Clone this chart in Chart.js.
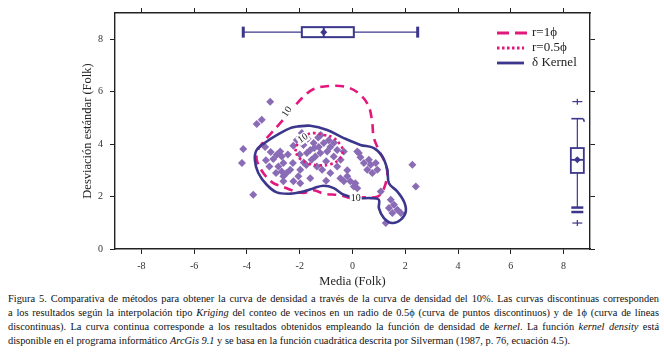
<!DOCTYPE html>
<html>
<head>
<meta charset="utf-8">
<script src="https://cdn.jsdelivr.net/npm/chart.js@4.4.1/dist/chart.umd.min.js"></script>
<style>
body { margin: 0; background: #fff; }
#wrap { position: relative; width: 664px; height: 355px; }
#cap { position: absolute; left: 8px; top: 292px; width: 651px; font-family: "Liberation Serif", "Times New Roman", Times, "DejaVu Serif", serif; font-size: 10.4px; line-height: 14px; color: #111; }
#cap div { text-align: justify; text-align-last: justify; }
#cap div.last { text-align-last: left; }
</style>
</head>
<body>
<div id="wrap">
  <canvas id="chart" width="664" height="290"></canvas>
  <div id="cap">
    <div>Figura 5. Comparativa de métodos para obtener la curva de densidad a través de la curva de densidad del 10%. Las curvas discontinuas corresponden</div>
    <div>a los resultados según la interpolación tipo <i>Kriging</i> del conteo de vecinos en un radio de 0.5ϕ (curva de puntos discontinuos) y de 1ϕ (curva de líneas</div>
    <div>discontinuas). La curva continua corresponde a los resultados obtenidos empleando la función de densidad de <i>kernel</i>. La función <i>kernel density</i> está</div>
    <div class="last">disponible en el programa informático <i>ArcGis 9.1</i> y se basa en la función cuadrática descrita por Silverman (1987, p. 76, ecuación 4.5).</div>
  </div>
</div>
<script>
// ejes
const xTicks = [-8, -6, -4, -2, 0, 2, 4, 6, 8];
const yTicks = [0, 2, 4, 6, 8];

// muestras: media y desviación (Folk)
const meanFolk = [-4.14, -4.19, -3.76, -3.63, -3.44, -3.12, -3.31, -3.28, -3.15, -3.00,
  -2.87, -2.74, -2.68, -2.62, -2.81, -2.68, -2.62, -2.62, -2.36, -2.24,
  -2.26, -1.98, -1.98, -2.05, -2.24, -2.11, -1.92, -1.86, -1.73, -1.60,
  -1.47, -1.41, -1.28, -1.22, -1.09, -0.96, -0.84, -0.71, -0.58, -0.33,
  -1.15, -0.84, -1.60, -0.58, -0.46, -0.33, -0.20, -0.08, 0.11, 0.18,
  0.05, 0.18, 0.24, 0.43, 0.62, 0.69, 0.56, 0.75, 0.94, 0.88,
  1.07, 2.27, 2.40, 1.45, 1.57, 1.70, 1.51, 1.83, 1.26, 1.38,
  -1.70, -1.30, -0.90, -1.55, -1.00, -0.70, -2.00, -1.85, -0.45, -1.20,
  -2.45, -2.50, -2.90, -3.10, -1.35, 0.30, -1.00, -0.20, -1.75, -1.45];
const sdFolk = [3.81, 3.28, 2.07, 4.77, 4.93, 5.62, 3.89, 3.38, 3.15, 3.43,
  3.59, 3.72, 3.53, 3.28, 3.15, 2.96, 2.77, 2.58, 3.02, 2.58,
  3.28, 3.02, 2.51, 2.77, 3.94, 4.16, 4.42, 3.97, 3.66, 3.78,
  4.04, 3.53, 3.89, 3.66, 4.04, 3.72, 3.89, 3.53, 3.78, 3.72,
  3.02, 2.90, 2.70, 3.15, 2.70, 2.58, 2.77, 2.58, 2.51, 2.32,
  2.38, 3.72, 3.66, 3.28, 3.40, 3.21, 3.02, 2.90, 3.02, 3.28,
  2.19, 3.21, 2.38, 1.88, 1.69, 1.50, 1.37, 1.37, 0.99, 1.56,
  4.20, 4.25, 4.15, 3.40, 3.35, 4.05, 3.60, 3.30, 3.40, 4.35,
  3.60, 2.90, 2.90, 3.70, 3.15, 3.50, 2.60, 3.00, 3.20, 3.85];

// curva kernel (10%)
const kernelX = [-2.11, -1.60, -0.96, -0.33, 0.30, 0.81, 1.13, 1.32, 1.38, 1.70, 1.95, 2.02, 1.83, 1.51, 1.19, 1.00, 1.00,
  0.69, 0.18, -0.33, -0.71, -1.09, -1.47, -1.86, -2.36, -2.87, -3.25, -3.57, -3.70, -3.63, -3.25, -2.74, -2.36, -2.11];
const kernelY = [4.67, 4.70, 4.54, 4.23, 3.97, 3.85, 3.53, 3.02, 2.51, 2.19, 1.81, 1.43, 1.12, 0.99, 1.18, 1.56, 1.88,
  1.94, 1.94, 2.07, 2.32, 2.41, 2.32, 2.19, 2.11, 2.16, 2.45, 2.90, 3.40, 3.78, 4.10, 4.42, 4.61, 4.67];

// kriging r=1ϕ
const r1X = [-3.25, -2.74, -2.36, -1.92, -1.47, -0.84, -0.20, 0.30, 0.62, 0.75, 0.80, 0.99, 1.22, 1.32, 1.26, 1.13, 0.94,
  0.43, -0.08, -0.46, -1.09, -1.47, -1.86, -2.30, -2.62, -3.00, -3.38, -3.63, -3.58, -3.43, -3.25];
const r1Y = [4.23, 4.80, 5.24, 5.75, 6.10, 6.22, 6.17, 5.88, 5.43, 4.80, 4.28, 3.78, 3.33, 2.94, 2.51, 2.19, 1.99,
  1.97, 1.94, 2.05, 2.11, 2.24, 2.14, 2.24, 2.37, 2.51, 2.90, 3.40, 3.78, 4.01, 4.23];

// kriging r=0.5ϕ
const r05X = [-2.17, -2.06, -1.79, -1.47, -1.09, -0.72, -0.46, -0.36, -0.53, -0.84, -1.22, -1.68, -2.02, -2.17];
const r05Y = [3.72, 4.05, 4.32, 4.42, 4.35, 4.24, 3.97, 3.71, 3.40, 3.23, 3.19, 3.27, 3.47, 3.72];

// diagramas de caja: [min, q1, mediana, q3, max]
const topBox = [-4.14, -1.92, -1.09, 0.05, 2.47];
const topBoxMean = -1.09;
const topBoxY = 8.27;
const rightBox = [1.58, 2.90, 3.40, 3.85, 4.97];
const rightBoxMean = 3.40;
const rightBoxX = 8.52;
const rightExtraCap = 1.41;
const rightOutliers = [5.62, 0.99];

// etiquetas de contorno
const labelText = ['10', '10', '10'];
const labelX = [-2.48, -1.88, 0.12];
const labelY = [5.23, 4.22, 1.93];
const labelRot = [-55, -35, 0];

const pink = '#e2187e';
const navy = '#3c378c';
const violet = '#8a6cb6';
const serif = '"Liberation Serif", "Times New Roman", Times, "DejaVu Serif", serif';

function toPts(xs, ys) {
  return xs.map((v, i) => ({ x: v, y: ys[i] }));
}

const extras = {
  id: 'extras',
  afterDatasetsDraw(chart) {
    const { ctx, scales: { x, y } } = chart;
    const px = v => x.getPixelForValue(v);
    const py = v => y.getPixelForValue(v);
    const line = (x1, y1, x2, y2) => { ctx.beginPath(); ctx.moveTo(x1, y1); ctx.lineTo(x2, y2); ctx.stroke(); };
    const diamond = (cx, cy, r) => {
      ctx.beginPath(); ctx.moveTo(cx, cy - r); ctx.lineTo(cx + r, cy); ctx.lineTo(cx, cy + r); ctx.lineTo(cx - r, cy); ctx.closePath(); ctx.fill();
    };
    ctx.save();

    // etiquetas "10"
    ctx.font = '10px ' + serif;
    ctx.textAlign = 'center';
    ctx.textBaseline = 'middle';
    labelText.forEach((t, i) => {
      ctx.save();
      ctx.translate(px(labelX[i]), py(labelY[i]));
      ctx.rotate(labelRot[i] * Math.PI / 180);
      ctx.fillStyle = '#fff';
      ctx.fillRect(-6, -5, 12, 10);
      ctx.fillStyle = '#222';
      ctx.fillText(t, 0, 0);
      ctx.restore();
    });

    ctx.strokeStyle = navy;
    ctx.fillStyle = navy;

    // caja superior (media)
    const cy = py(topBoxY);
    ctx.lineWidth = 1.2;
    line(px(topBox[0]), cy, px(topBox[1]), cy);
    line(px(topBox[3]), cy, px(topBox[4]), cy);
    ctx.lineWidth = 2;
    ctx.strokeRect(px(topBox[1]), cy - 5, px(topBox[3]) - px(topBox[1]), 10);
    line(px(topBox[2]), cy - 5, px(topBox[2]), cy + 5);
    ctx.fillRect(px(topBox[0]) - 1.5, cy - 5.5, 3, 11);
    ctx.fillRect(px(topBox[4]) - 1.5, cy - 5.5, 3, 11);
    diamond(px(topBoxMean), cy, 3.5);

    // caja derecha (desviación)
    const cx = px(rightBoxX);
    ctx.lineWidth = 1.2;
    line(cx, py(rightBox[3]), cx, py(rightBox[4]));
    line(cx, py(rightBox[1]), cx, py(rightBox[0]));
    ctx.lineWidth = 1.6;
    line(cx - 6, py(rightBox[4]), cx + 6, py(rightBox[4]));
    line(cx + 6, py(rightBox[4]), cx + 7, py(rightBox[4]) + 3);
    ctx.lineWidth = 2.5;
    line(cx - 6, py(rightBox[0]), cx + 6, py(rightBox[0]));
    line(cx - 6, py(rightExtraCap), cx + 6, py(rightExtraCap));
    ctx.lineWidth = 1.8;
    ctx.strokeRect(cx - 6.5, py(rightBox[3]), 13, py(rightBox[1]) - py(rightBox[3]));
    line(cx - 6.5, py(rightBox[2]), cx + 6.5, py(rightBox[2]));
    diamond(cx, py(rightBoxMean), 3.5);
    ctx.lineWidth = 1.2;
    rightOutliers.forEach(v => {
      line(cx - 5, py(v), cx + 5, py(v));
      line(cx, py(v) - 3, cx, py(v) + 3);
    });

    // leyenda
    const lx = 497, lx2 = 524, tx = 532;
    const rows = [33, 48, 63];
    ctx.lineWidth = 2.8;
    ctx.strokeStyle = pink;
    ctx.setLineDash([12, 6]);
    line(lx, rows[0], lx2 + 3, rows[0]);
    ctx.setLineDash([2.5, 2.5]);
    line(lx, rows[1], lx2, rows[1]);
    ctx.setLineDash([]);
    ctx.strokeStyle = navy;
    line(lx, rows[2], lx2, rows[2]);
    ctx.font = '13px ' + serif;
    ctx.textAlign = 'left';
    ctx.fillStyle = '#222';
    ctx.fillText('r=1ϕ', tx, rows[0]);
    ctx.fillText('r=0.5ϕ', tx, rows[1]);
    ctx.fillText('δ Kernel', tx, rows[2]);
    ctx.restore();
  }
};

function axisBase(ticks) {
  return {
    type: 'linear',
    afterBuildTicks: s => { s.ticks = ticks.map(v => ({ value: v })); },
    grid: { drawOnChartArea: false, drawTicks: true, tickLength: 5, color: '#222', lineWidth: 1 },
    border: { display: true, color: '#222', width: 1.4 }
  };
}

new Chart(document.getElementById('chart'), {
  type: 'scatter',
  data: {
    datasets: [
      {
        label: 'δ Kernel',
        data: toPts(kernelX, kernelY),
        showLine: true, borderColor: navy, borderWidth: 2.6, pointRadius: 0, tension: 0.35, fill: false, order: 1
      },
      {
        label: 'r=1ϕ',
        data: toPts(r1X, r1Y),
        showLine: true, borderColor: pink, borderWidth: 2.6, borderDash: [9, 6], pointRadius: 0, tension: 0.35, fill: false, order: 1
      },
      {
        label: 'r=0.5ϕ',
        data: toPts(r05X, r05Y),
        showLine: true, borderColor: pink, borderWidth: 2.6, borderDash: [2.5, 3], pointRadius: 0, tension: 0.4, fill: false, order: 1
      },
      {
        label: 'muestras',
        data: toPts(meanFolk, sdFolk),
        pointStyle: 'rectRot', pointRadius: 4, backgroundColor: violet, borderWidth: 0, order: 2
      }
    ]
  },
  options: {
    responsive: false,
    animation: false,
    devicePixelRatio: 1,
    layout: { padding: 0 },
    plugins: { legend: { display: false }, tooltip: { enabled: false } },
    scales: {
      x: Object.assign(axisBase(xTicks), {
        position: 'bottom', min: -9, max: 9,
        afterFit: s => { s.height = 41; },
        ticks: { padding: 6, color: '#333', font: { family: serif, size: 10 } },
        title: { display: true, text: 'Media (Folk)', color: '#222', font: { family: serif, size: 12.5 }, padding: { top: 0, bottom: 1 } }
      }),
      x2: Object.assign(axisBase(xTicks), {
        position: 'top', min: -9, max: 9,
        afterFit: s => { s.height = 13; },
        ticks: { display: false }
      }),
      y: Object.assign(axisBase(yTicks), {
        position: 'left', min: 0, max: 9,
        afterFit: s => { s.width = 115; },
        ticks: { padding: 7, color: '#333', font: { family: serif, size: 10 } },
        title: { display: true, text: 'Desviación estándar (Folk)', color: '#222', font: { family: serif, size: 12.5 }, padding: { top: 80, bottom: 0 } }
      }),
      y2: Object.assign(axisBase(yTicks), {
        position: 'right', min: 0, max: 9,
        afterFit: s => { s.width = 74; },
        ticks: { display: false }
      })
    }
  },
  plugins: [extras]
});
</script>
</body>
</html>
